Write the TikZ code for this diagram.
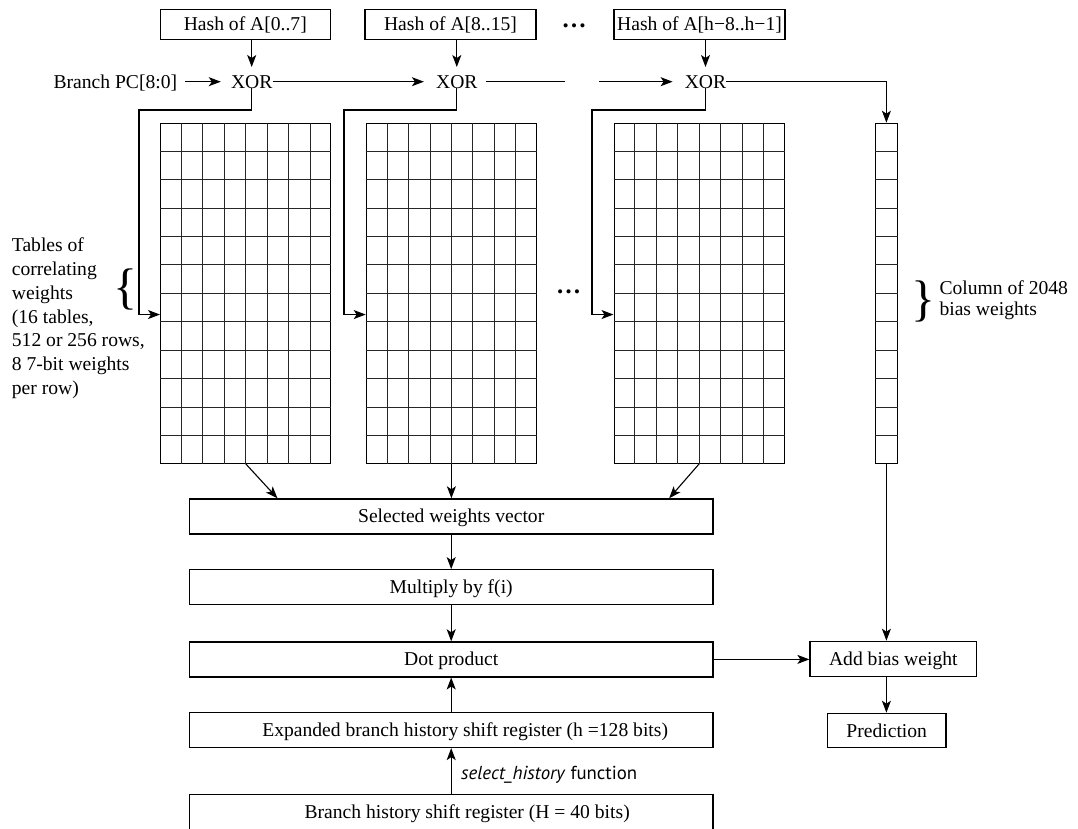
\documentclass[tikz,border=0pt]{standalone}
\usepackage{fontspec}
\setmainfont{Liberation Serif}
\newfontfamily\sansfnt{PT Sans}
\usetikzlibrary{arrows.meta,calc}
\newcommand\mkrows[1]{%
  \foreach \j in {1,...,11}
    \draw[gridln] ($(#1.north west)!\j/12!(#1.south west)$) -- ($(#1.north east)!\j/12!(#1.south east)$);}
\newcommand\mkcols[1]{%
  \foreach \i in {1,...,7}
    \draw[gridln] ($(#1.north west)!\i/8!(#1.north east)$) -- ($(#1.south west)!\i/8!(#1.south east)$);}
\begin{document}
\begin{tikzpicture}[x=1pt,y=-1pt,
  txt/.style={font=\fontsize{19.6}{23.9}\selectfont},
  box/.style={draw, line width=1.2pt, inner sep=0pt, txt, text height=13pt, text depth=0pt},
  lbl/.style={inner sep=0pt, txt, text height=13pt, text depth=0pt},
  tbl/.style={draw, line width=1.1pt, inner sep=0pt, anchor=north west, minimum height=340pt},
  gridln/.style={line width=0.9pt, draw=black!85},
  wire/.style={line width=1.1pt},
  arr/.style={wire, -{Stealth[length=12pt,width=9pt,inset=3pt]}},
  dots/.style={inner sep=0pt, font=\fontsize{25}{25}\selectfont\bfseries},
  brace/.style={inner sep=0pt, font=\fontsize{50}{50}\selectfont},
  wide/.style={box, minimum width=523.7pt, minimum height=35pt},
]
\useasboundingbox (0,0) rectangle (1078,829);

% hash boxes
\node[box, minimum width=170pt, minimum height=30pt] (h1) at (245.3,24.2) {Hash of A[0..7]};
\node[box, minimum width=171pt, minimum height=30pt] (h2) at (450.5,24.2) {Hash of A[8..15]};
\node[box, minimum width=171pt, minimum height=30pt] (h3) at (699.5,24.2) {Hash of A[h−8..h−1]};
\node[dots] (d1) at (574,26) {…};

% XOR row
\node[lbl, anchor=base east] (pc) at (177.3,88.2) {Branch PC[8:0]};
\node[lbl, anchor=base] (x1) at (251.7,88.2) {XOR};
\node[lbl, anchor=base] (x2) at (456.8,88.2) {XOR};
\node[lbl, anchor=base] (x3) at (705.5,88.2) {XOR};

% tables
\node[tbl, minimum width=170.3pt] (g1) at (160,122.7) {};
\node[tbl, minimum width=170.3pt] (g2) at (365.7,122.7) {};
\node[tbl, minimum width=170.3pt] (g3) at (613.5,122.7) {};
\node[tbl, minimum width=21.7pt] (bias) at (875,122.7) {};
\mkrows{g1}\mkcols{g1}
\mkrows{g2}\mkcols{g2}
\mkrows{g3}\mkcols{g3}
\mkrows{bias}
\node[dots] (d2) at (568.5,291.7) {…};

% side texts
\node[anchor=north west, align=left, inner sep=0pt, txt] (tl) at (11.7,237.3)
  {Tables of\\correlating\\weights\\(16 tables,\\512 or 256 rows,\\8 7-bit weights\\per row)};
\node[brace] (lb) at (125,289) {\{};
\node[brace] (rb) at (923.5,301) {\}};
\node[anchor=north west, align=left, inner sep=0pt, font=\fontsize{19.6}{21}\selectfont] (tr) at (939.3,280)
  {Column of 2048\\bias weights};

% lower boxes
\node[wide] (sel) at (451.2,516.4) {Selected weights vector};
\node[wide] (mul) at (451.2,587.2) {Multiply by f(i)};
\node[wide] (dot) at (451.2,659.4) {Dot product};
\node[wide] (exp) at (451.2,730) {\hspace*{28pt}Expanded branch history shift register (h =128 bits)};
\node[wide] (bh) at (451.2,811.7) {\hspace*{32pt}Branch history shift register (H = 40 bits)};
\node[box, minimum width=166.7pt, minimum height=35.4pt] (add) at (893.3,659) {Add bias weight};
\node[box, minimum width=118.7pt, minimum height=34.4pt] (pred) at (886.7,730.5) {Prediction};
\node[anchor=west, inner sep=0pt, font=\sansfnt\fontsize{18.8}{18.8}\selectfont] (sh) at (461,775) {\textit{select\_history} function};

% connectors top
\draw[arr] (h1.south -| x1) -- ([yshift=8pt]x1.north);
\draw[arr] (h2.south -| x2) -- ([yshift=8pt]x2.north);
\draw[arr] (h3.south -| x3) -- ([yshift=8pt]x3.north);
\draw[arr] ([xshift=8pt]pc.east) -- ([xshift=-10pt]x1.west);
\draw[arr] (x1.east) -- ([xshift=-12pt]x2.west);
\coordinate (gl) at (565,81.7);
\coordinate (gr) at (599,81.7);
\draw[wire] ([xshift=8pt]x2.east) -- (gl);
\draw[arr] (gr) -- ([xshift=-12pt]x3.west);
\draw[arr] (x3.east) -| (bias.north);
\coordinate (t1) at (139,110);
\coordinate (t2) at (344,110);
\coordinate (t3) at (592,110);
\draw[arr] (x1.south) |- (t1) |- ([yshift=-21.3pt]g1.west);
\draw[arr] (x2.south) |- (t2) |- ([yshift=-21.3pt]g2.west);
\draw[arr] (x3.south) |- (t3) |- ([yshift=-21.3pt]g3.west);

% connectors bottom
\draw[arr] (g1.south) -- ([xshift=88.7pt]sel.north west);
\draw[arr] (g2.south) -- (g2.south |- sel.north);
\draw[arr] (g3.south) -- ([xshift=-44.5pt]sel.north east);
\draw[arr] (sel.south) -- (mul.north);
\draw[arr] (mul.south) -- (dot.north);
\draw[arr] (exp.north) -- (dot.south);
\draw[arr] (bh.north) -- (exp.south);
\draw[arr] (bias.south) -- (bias.south |- add.north);
\draw[arr] (dot.east) -- (dot.east -| add.west);
\draw[arr] (bias.south |- add.south) -- (bias.south |- pred.north);
\end{tikzpicture}
\end{document}
